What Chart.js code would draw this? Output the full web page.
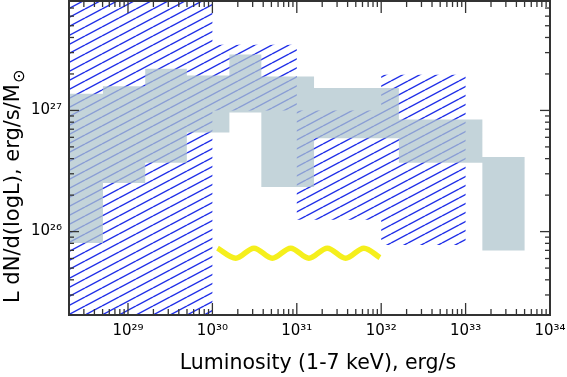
<!DOCTYPE html>
<html>
<head>
<meta charset="utf-8">
<script src="https://cdn.jsdelivr.net/npm/chart.js@4.4.1/dist/chart.umd.min.js"></script>
<style>
html, body { margin: 0; padding: 0; background: #fff; }
</style>
</head>
<body>
<canvas id="chart" width="567" height="377"></canvas>
<script>
// Boites grises : bords en luminosité, bornes haute et basse
var binEdges = [2e28, 5.05e28, 1.6e29, 4.98e29, 1.59e30, 3.8e30, 1.6e31, 1.62e32, 1.58e33, 5e33];
var binHigh = [1.37e27, 1.58e27, 2.21e27, 1.94e27, 2.89e27, 1.91e27, 1.53e27, 8.4e26, 4.12e26];
var binLow = [8.07e25, 2.52e26, 3.7e26, 6.58e26, 9.6e26, 2.33e26, 5.9e26, 3.7e26, 6.97e25];

// Zone hachurée
var hatchEdges = [2e28, 1e30, 1e31, 1e32, 1e33];
var hatchHigh = [8e27, 3.49e27, 1e27, 1.97e27];
var hatchLow = [2.05e25, 1e27, 1.25e26, 7.76e25];

// Ligne ondulée jaune
var waveX = [1.15e30, 1.89e30, 3.11e30, 5.13e30, 8.47e30, 1.39e31, 2.3e31, 3.79e31, 6.24e31, 9.66e31];
var waveY = [7.3e25, 6.03e25, 7.3e25, 6.03e25, 7.3e25, 6.03e25, 7.3e25, 6.03e25, 7.3e25, 6.1e25];

// Graduations
var xTicks = [1e29, 1e30, 1e31, 1e32, 1e33, 1e34];
var xTickLabels = ['10²⁹', '10³⁰', '10³¹', '10³²', '10³³', '10³⁴'];
var yTicks = [1e26, 1e27];
var yTickLabels = ['10²⁶', '10²⁷'];

var xTitle = 'Luminosity (1-7 keV), erg/s';
var yTitle = 'L dN/d(logL), erg/s/M';
var yTitleSub = '⊙';

// contour en escalier (haut de gauche à droite, bas de droite à gauche)
function stepShape(edges, high, low) {
	var pts = [];
	for (var i = 0; i < high.length; i++) {
		pts.push({x: edges[i], y: high[i]});
		pts.push({x: edges[i + 1], y: high[i]});
	}
	for (var j = low.length - 1; j >= 0; j--) {
		pts.push({x: edges[j + 1], y: low[j]});
		pts.push({x: edges[j], y: low[j]});
	}
	return pts;
}

// motif de hachures diagonales
function makeHatch(color) {
	var c = document.createElement('canvas');
	c.width = 17; c.height = 9;
	var g = c.getContext('2d');
	g.strokeStyle = color;
	g.lineWidth = 1.4;
	for (var k = -1; k <= 1; k++) {
		g.beginPath();
		g.moveTo(0, 9 + k * 9);
		g.lineTo(17, k * 9);
		g.stroke();
	}
	return g.createPattern(c, 'repeat');
}

var ctx = document.getElementById('chart').getContext('2d');

var wavePoints = waveX.map(function (x, i) { return {x: x, y: waveY[i]}; });

// Cadre, petites graduations et titres des axes
var framePlugin = {
	id: 'frame',
	afterDatasetsDraw: function (chart) {
		var c = chart.ctx, a = chart.chartArea;
		var sx = chart.scales.x, sy = chart.scales.y;
		c.save();
		c.strokeStyle = '#333';
		c.lineWidth = 1.3;
		function seg(x1, y1, x2, y2) { c.beginPath(); c.moveTo(x1, y1); c.lineTo(x2, y2); c.stroke(); }
		for (var e = 28; e <= 34; e++) {
			for (var m = 1; m <= 9; m++) {
				var v = m * Math.pow(10, e);
				if (v >= sx.min && v <= sx.max) {
					var px = sx.getPixelForValue(v);
					var lx = m === 1 ? 12 : 6;
					seg(px, a.bottom, px, a.bottom - lx);
					seg(px, a.top, px, a.top + lx);
				}
			}
		}
		for (var e2 = 25; e2 <= 27; e2++) {
			for (var m2 = 1; m2 <= 9; m2++) {
				var w = m2 * Math.pow(10, e2);
				if (w >= sy.min && w <= sy.max) {
					var py = sy.getPixelForValue(w);
					var ly = m2 === 1 ? 10 : 5;
					seg(a.left, py, a.left + ly, py);
					seg(a.right, py, a.right - ly, py);
				}
			}
		}
		c.lineWidth = 2;
		c.strokeRect(a.left, a.top, a.right - a.left, a.bottom - a.top);

		c.fillStyle = '#000';
		c.font = '20.5px "DejaVu Sans"';
		c.textAlign = 'center';
		c.textBaseline = 'alphabetic';
		c.fillText(xTitle, 318, 369);

		c.translate(19, 303);
		c.rotate(-Math.PI / 2);
		c.textAlign = 'left';
		c.font = '21px "DejaVu Sans"';
		c.fillText(yTitle, 0, 0);
		var tw = c.measureText(yTitle).width;
		c.font = '16px "DejaVu Sans"';
		c.fillText(yTitleSub, tw + 1, 5);
		c.restore();
	}
};

function noPad(s) {
	s.paddingTop = 0; s.paddingBottom = 0;
	s.paddingLeft = 0; s.paddingRight = 0;
}

var chart = new Chart(ctx, {
	type: 'scatter',
	data: {
		datasets: [{
			data: wavePoints,
			showLine: true,
			borderColor: '#f5ef1c',
			borderWidth: 5.5,
			pointRadius: 0,
			cubicInterpolationMode: 'monotone',
			fill: false
		}, {
			data: stepShape(binEdges, binHigh, binLow),
			showLine: true,
			borderColor: 'rgba(0,0,0,0)',
			borderWidth: 0,
			pointRadius: 0,
			backgroundColor: 'rgba(176,197,205,0.74)',
			fill: 'shape'
		}, {
			data: stepShape(hatchEdges, hatchHigh, hatchLow),
			showLine: true,
			borderColor: 'rgba(0,0,0,0)',
			borderWidth: 0,
			pointRadius: 0,
			backgroundColor: makeHatch('#1f2ee8'),
			fill: 'shape'
		}]
	},
	options: {
		responsive: false,
		animation: false,
		layout: { padding: { top: 1, right: 17, left: 0, bottom: 0 } },
		plugins: { legend: { display: false }, tooltip: { enabled: false } },
		scales: {
			x: {
				type: 'logarithmic',
				min: 2e28,
				max: 1e34,
				grid: { display: false, drawTicks: false },
				border: { display: false },
				afterBuildTicks: function (s) { s.ticks = xTicks.map(function (v) { return {value: v}; }); },
				afterFit: function (s) { s.height = 62; noPad(s); },
				ticks: {
					autoSkip: false,
					maxRotation: 0,
					padding: 7,
					color: '#000',
					font: { family: 'DejaVu Sans', size: 15 },
					callback: function (v, i) { return xTickLabels[i]; }
				}
			},
			y: {
				type: 'logarithmic',
				min: 2.05e25,
				max: 8e27,
				grid: { display: false, drawTicks: false },
				border: { display: false },
				afterBuildTicks: function (s) { s.ticks = yTicks.map(function (v) { return {value: v}; }); },
				afterFit: function (s) { s.width = 69; noPad(s); },
				ticks: {
					autoSkip: false,
					padding: 7,
					color: '#000',
					font: { family: 'DejaVu Sans', size: 15 },
					callback: function (v, i) { return yTickLabels[i]; }
				}
			}
		}
	},
	plugins: [framePlugin]
});
</script>
</body>
</html>
